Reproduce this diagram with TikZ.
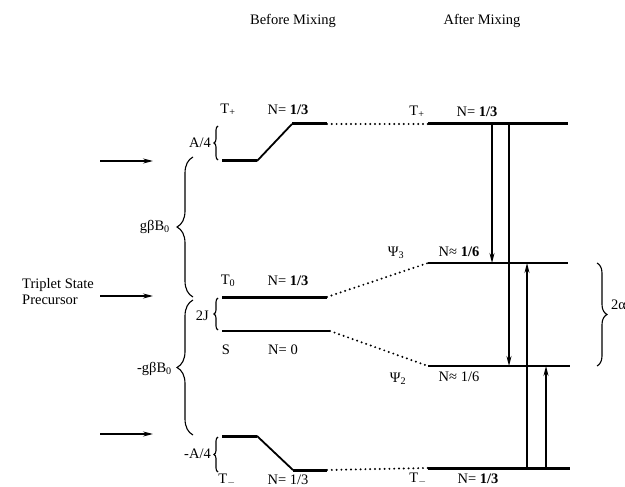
\documentclass[tikz,border=0pt]{standalone}
\usepackage{fontspec}
\setmainfont{Liberation Serif}
\usetikzlibrary{arrows.meta,decorations.pathreplacing}

\begin{document}
\begin{tikzpicture}[x=1pt, y=-1pt,
    txt/.style={font=\fontsize{14.5}{16}\selectfont, inner sep=0pt},
    lvl/.style={line width=3pt},
    thinlvl/.style={line width=1.5pt},
    slant/.style={line width=1.8pt},
    corr/.style={line width=2.2pt, dash pattern=on 0pt off 4.8pt, line cap=round},
    trans/.style={line width=1.3pt, -{Stealth[length=10pt,width=5pt]}},
    feed/.style={line width=1.3pt, -{Stealth[length=10pt,width=5pt]}},
    gap/.style={decorate, decoration={brace, amplitude=#1}, line width=1.1pt},
    gap/.default=4pt
]
\useasboundingbox (0,0) rectangle (625,487);

% headings
\node[txt] (before) at (293,21) {Before Mixing};
\node[txt] (after)  at (482,21) {After Mixing};

% levels before mixing
\coordinate (tpA) at (222,161); \coordinate (tpB) at (257,161);
\coordinate (tpC) at (292,124); \coordinate (tpD) at (327,124);
\coordinate (t0L) at (222,297); \coordinate (t0R) at (327,297);
\coordinate (sL)  at (222,331); \coordinate (sR)  at (330,331);
\coordinate (tmA) at (222,436); \coordinate (tmB) at (257,436);
\coordinate (tmC) at (293,470); \coordinate (tmD) at (327,470);

\draw[lvl] (tpA) -- (tpB); \draw[slant] (tpB) -- (tpC); \draw[lvl] (tpC) -- (tpD);
\draw[lvl] (t0L) -- (t0R);
\draw[thinlvl] (sL) -- (sR);
\draw[lvl] (tmA) -- (tmB); \draw[slant] (tmB) -- (tmC); \draw[lvl] (tmC) -- (tmD);

% levels after mixing
\coordinate (atpL) at (428,124); \coordinate (atpR) at (568,124);
\coordinate (p3L)  at (428,263); \coordinate (p3R)  at (568,263);
\coordinate (p2L)  at (428,366); \coordinate (p2R)  at (570,366);
\coordinate (atmL) at (428,468); \coordinate (atmR) at (570,468);

\draw[lvl] (atpL) -- (atpR);
\draw[thinlvl] (p3L) -- (p3R);
\draw[thinlvl] (p2L) -- (p2R);
\draw[lvl] (atmL) -- (atmR);

% correlation lines
\draw[corr] (tpD) -- (atpL);
\draw[corr] (t0R) -- (p3L);
\draw[corr] (sR) -- (p2L);
\draw[corr] (tmD) -- (atmL);

% level labels
\node[txt] (lTp)  at (228,110) {T\textsubscript{+}};
\node[txt] (nTp)  at (288,110) {N= \textbf{1/3}};
\node[txt] (lT0)  at (228,281) {T\textsubscript{0}};
\node[txt] (nT0)  at (288,281) {N= \textbf{1/3}};
\node[txt] (lS)   at (226,350) {S};
\node[txt] (nS)   at (283,350) {N= 0};
\node[txt] (lTm)  at (227,480) {T\textsubscript{$-$}};
\node[txt] (nTm)  at (288,480) {N= 1/3};
\node[txt] (alTp) at (417,112) {T\textsubscript{+}};
\node[txt] (anTp) at (477,112) {N= \textbf{1/3}};
\node[txt] (lP3)  at (396,253) {Ψ\textsubscript{3}};
\node[txt] (nP3)  at (459,252) {N≈ \textbf{1/6}};
\node[txt] (lP2)  at (398,379) {Ψ\textsubscript{2}};
\node[txt] (nP2)  at (459,377) {N≈ 1/6};
\node[txt] (alTm) at (418,479) {T\textsubscript{$-$}};
\node[txt] (anTm) at (478,479) {N= \textbf{1/3}};

% precursor and feeding arrows
\node[txt, align=left, anchor=west] (prec) at (22,292) {Triplet State\\Precursor};
\coordinate (fTp) at (100,161); \coordinate (fTpE) at (153,161);
\coordinate (fT0) at (100,296); \coordinate (fT0E) at (153,296);
\coordinate (fTm) at (100,434); \coordinate (fTmE) at (153,434);
\draw[feed] (fTp) -- (fTpE);
\draw[feed] (fT0) -- (fT0E);
\draw[feed] (fTm) -- (fTmE);

% energy gaps
\draw[gap=16pt] (193,297) -- (193,157);
\draw[gap=16pt] (193,435) -- (193,300);
\node[txt, anchor=east] (gB)  at (170,227) {gβB\textsubscript{0}};
\node[txt, anchor=east] (mgB) at (172,369) {-gβB\textsubscript{0}};
\draw[gap] (218,160) -- (218,126);
\node[txt, anchor=east] (gA) at (211,143) {A/4};
\draw[gap] (218,330) -- (218,298);
\node[txt, anchor=east] (gJ) at (209,316) {2J};
\draw[gap] (218,472) -- (218,437);
\node[txt, anchor=east] (mgA) at (211,454) {-A/4};
\draw[gap=10pt] (597,263) -- (597,366);
\node[txt, anchor=west] (gAl) at (611,305) {2α};

% transitions
\coordinate (x1) at (492,0); \coordinate (x2) at (509,0);
\coordinate (x3) at (527,0); \coordinate (x4) at (546,0);
\draw[trans] (x1 |- atpL) -- (x1 |- p3L);
\draw[trans] (x2 |- atpL) -- (x2 |- p2L);
\draw[trans] (x3 |- atmL) -- (x3 |- p3L);
\draw[trans] (x4 |- atmL) -- (x4 |- p2L);

\end{tikzpicture}
\end{document}
